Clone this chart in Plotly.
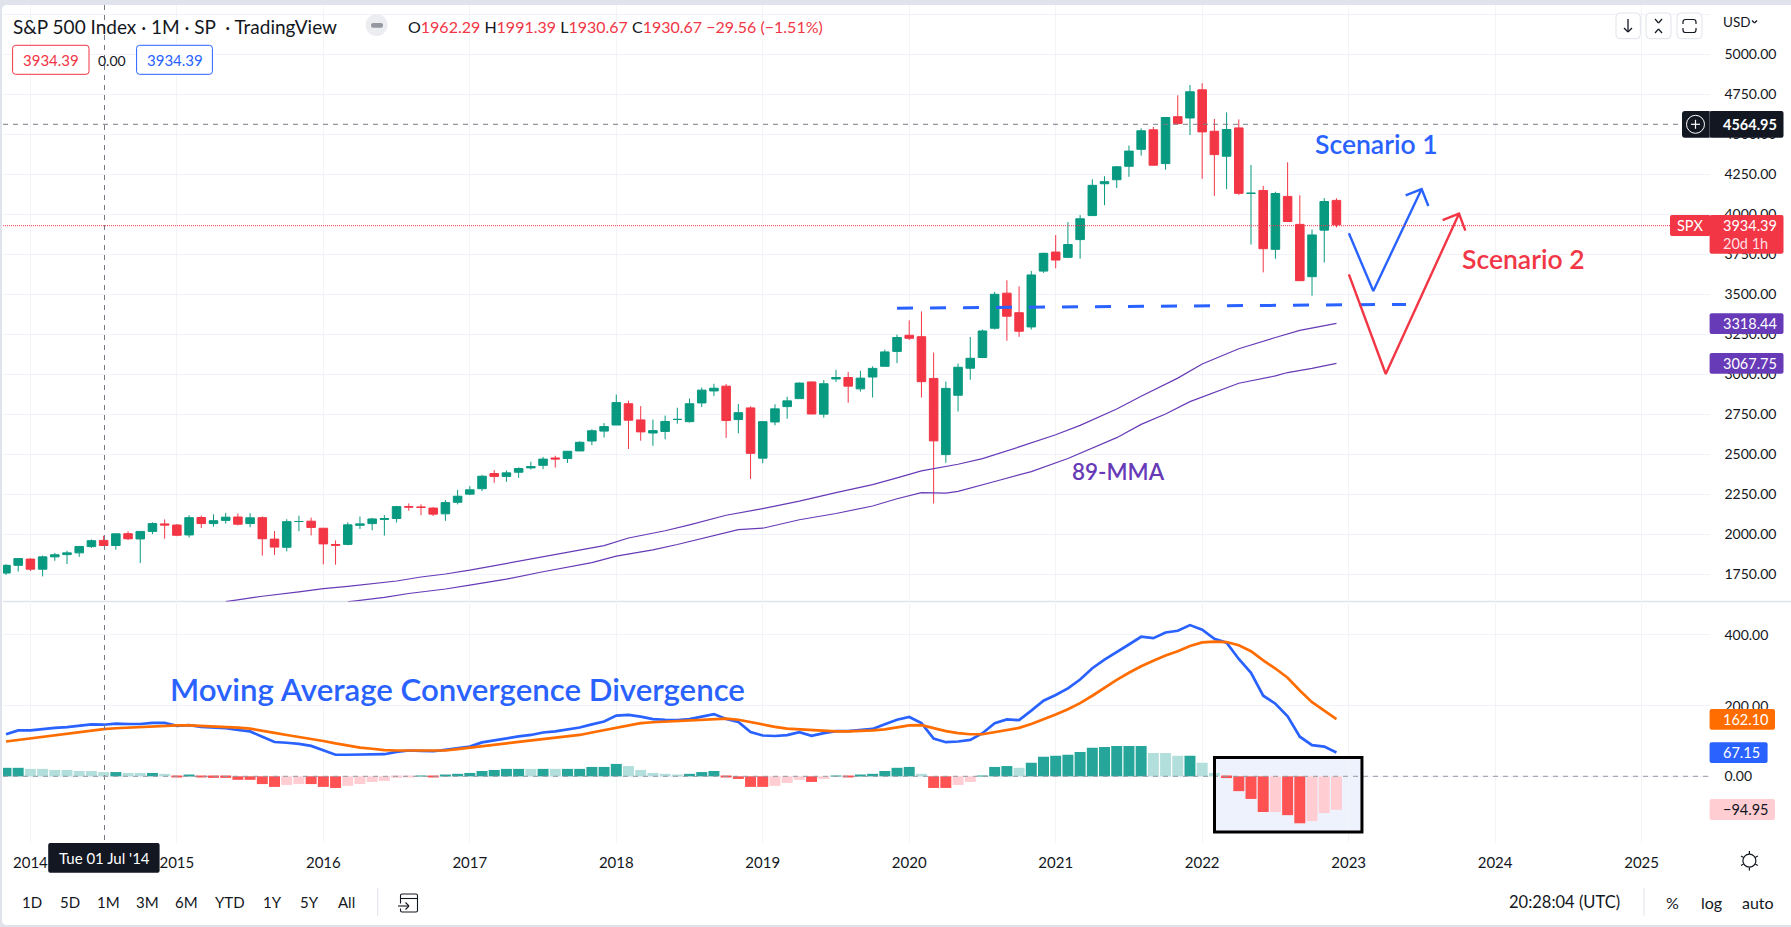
import plotly.graph_objects as go

W, H = 1791, 927
AX_R, AX_L = 1709.6, 3.0
PANE_TOP, PANE_MID, PANE_BOT = 5.0, 601.5, 843.0

# ---------- data ----------
first_month = (2013, 11)
opens = [1758,1806,1845,1782,1859,1873,1884,1923,1962,1930,2004,1971,2018,2065,2058,1996,2105,2067,2087,2108,2067,2104,1970,1919,2080,2082,
 2038,1936,1937,2056,2067,2093,2099,2173,2171,2164,2128,2200,2251,2285,2380,2362,2388,2415,2431,2477,2474,2521,2583,2645,2683,2816,2715,2633,2643,2718,2704,2821,2896,2926,2717,2790,
 2476,2702,2798,2848,2952,2751,2971,2980,2909,2983,3050,3143,3244,3235,2974,2498,2869,3038,3105,3288,3507,3385,3296,3645,3764,3731,3842,3992,4191,4216,4300,4406,4528,4317,4610,4602,
 4778,4519,4363,4540,4130,4149,3781,4112,3937,3610,3901,4087]
highs = [1813,1849,1850,1867,1883,1897,1925,1968,1991,2005,2019,2019,2075,2093,2064,2119,2117,2125,2134,2130,2132,2112,2020,2094,2116,2104,
 2038,1962,2075,2111,2103,2120,2178,2193,2187,2169,2214,2278,2301,2371,2401,2399,2418,2454,2484,2491,2519,2582,2657,2695,2873,2835,2801,2717,2742,2791,2848,2917,2941,2940,2815,2800,
 2708,2813,2860,2949,2955,2964,3028,3014,3022,3050,3154,3248,3337,3393,3136,2955,3068,3233,3280,3515,3588,3550,3646,3760,3870,3951,3995,4219,4238,4302,4430,4537,4546,4609,4744,4808,
 4819,4596,4637,4593,4308,4178,4141,4325,4119,3905,4101,4100]
lows = [1746,1767,1770,1737,1834,1814,1859,1915,1930,1904,1964,1820,2001,1972,1988,1980,2039,2048,2067,2056,2044,1867,1871,1893,2019,1993,
 1812,1810,1931,2033,2025,1992,2074,2147,2119,2114,2084,2187,2245,2271,2322,2328,2353,2405,2407,2417,2446,2520,2557,2605,2683,2533,2585,2553,2594,2691,2699,2796,2864,2603,2631,2346,
 2444,2681,2722,2848,2750,2729,2952,2822,2892,2855,3050,3070,3214,2855,2192,2447,2767,2966,3101,3280,3210,3234,3280,3634,3663,3726,3723,3990,4057,4164,4234,4367,4305,4279,4561,4496,
 4222,4115,4157,4121,3811,3637,3722,3955,3585,3491,3699,3918]
closes = [1806,1848,1782,1859,1872,1884,1924,1960,1930,2003,1972,2018,2067,2058,1994,2104,2067,2085,2107,2063,2103,1972,1920,2079,2080,2043,
 1940,1932,2059,2065,2096,2098,2173,2170,2168,2126,2198,2238,2278,2363,2362,2384,2411,2423,2470,2471,2519,2575,2647,2673,2823,2713,2640,2648,2705,2718,2816,2901,2913,2711,2760,2506,
 2704,2784,2834,2945,2752,2941,2980,2926,2976,3037,3140,3230,3225,2954,2584,2912,3044,3100,3271,3500,3363,3269,3621,3756,3714,3811,3972,4181,4204,4297,4395,4522,4307,4605,4567,4766,
 4515,4373,4530,4131,4132,3785,4130,3955,3585,3871,4080,3934.39]

ma_upper_idx = [18,21,24,26,28,30,32,34,36,38,40,44,46,49,51,54,56,59,62,65,68,71,73,75,78,80,83,86,88,91,93,96,98,101,104,106,109]
ma_upper = [1579,1613,1640,1661,1675,1691,1708,1733,1752,1776,1803,1858,1884,1929,1977,2022,2059,2119,2161,2207,2260,2310,2353,2396,2438,2473,2546,2622,2681,2783,2863,2976,3064,3160,3230,3275,3318.44]
ma_lower_idx = [28,31,33,36,38,41,44,46,48,50,53,55,58,60,62,65,68,71,73,75,77,78,81,84,87,91,93,95,97,99,101,104,105,107,109]
ma_lower = [1578,1606,1630,1658,1682,1720,1766,1795,1823,1864,1903,1936,1994,2029,2038,2091,2130,2177,2222,2260,2257,2268,2330,2392,2474,2604,2687,2752,2829,2885,2944,2990,3011,3037,3067.75]

macd = [119,130,130,134,137,139,143,147,146,149,148,148,151,151,143,145,140,138,136,131,127,112,97,95,92,86,74,61,61,61,62,62.5,69,73,72,71,75,
 79,84,96,102,107,113,117,124,127,132,138,147,155,172,174,169,162,160,159,162,170,176,162,154,125,115.5,114,116.5,125,114.6,122,128,128,132,134,147,160,
 168,150.6,107,96.6,98.5,103,122,150,161,159,186,214,230,249,274,306,330.5,353,373,395,391,407,412,428,415,389,378,332,293,228,205.5,170,112,88,84,67.15]
signal = [98.5,103,108,113,117,121,125,130,133.5,136,138,140,142,144,144,144,143,142,141,138,135,130,123,117,112,107,100,93,86,81,78,74,73,73,73,72.5,73,
 77,80.5,84,88,93,97.5,101,105,109,113,117,124,131,138,145,150.5,153,155,156,158,161,163,163,160,153,147,140,135,133,129,127,127,127,128,130,133,139,
 144,145,136,128,122,119,119,125,132.6,137,148,161,175,190,207,228,251,273,293,311.5,327,342,354,369,379,381,380,371,354,328,305,279,243,210,186,162.10]
hist = [24,24,21,21,18,18,15,15,12,12,9.5,9.5,9.5,7,-2,4,-2,-4.5,-4.5,-10,-10,-22,-30,-24.5,-22,-22,-30,-33,-27,-22,-16,-13,-4.5,-2,2,-2,4,
 7,9.5,15,18,21,21,21,21,21,21,21,26.5,26.5,35,29,18,9.5,7,4,7,12,15,-2,-7.5,-30,-30,-27,-19,-10,-16,-7.5,2,-2,4,7,15,24,
 26.5,7,-33,-33,-24.6,-16,2,26.5,29,24,38,55,58,61,69,80.5,83,86,86,86,66,66,58,58,38,9.5,-5,-42,-64,-101,-101,-110,-133,-127,-104,-94.95]
hist_shade = list("DDLLLLLLLDLLDL" "RDRRRRRRRPPRRRPPPPPP" "DRD" "DDDDDDLDLDDDDDLLLLLDDDRRRRPPPRPDRDDDD" "DLRRPPDDDLDDDDDDDDDDLLLDLLRRRRPRRPPP")
shade_colors = {"D": "#26a69a", "L": "#b2dfdb", "R": "#ff5252", "P": "#ffcdd2"}

level_x = [73, 114.7]
level_y = [3413, 3437]
sc1_x = [110.02, 112.02, 115.98]
sc1_y = [3881, 3521, 4158]
sc1_head_x = [114.67, 115.98, 116.53]
sc1_head_y = [4119, 4158, 4052]
sc2_x = [110.02, 113.04, 119.04]
sc2_y = [3625, 3002, 4004]
sc2_head_x = [117.7, 119.04, 119.56]
sc2_head_y = [3964, 4004, 3898]

price_ticks = [1750,2000,2250,2500,2750,3000,3250,3500,3750,4000,4250,4500,4750,5000,5250]
macd_ticks = [0, 200, 400]
year_labels = ["2014","2015","2016","2017","2018","2019","2020","2021","2022","2023","2024","2025"]
range_buttons = ["1D","5D","1M","3M","6M","YTD","1Y","5Y","All"]

# ---------- scales ----------
GREEN, RED, BLUE, ORANGE, PURPLE, INK = "#089981", "#f23645", "#2962ff", "#ff6d00", "#673ab7", "#131722"
GRID = "#f0f3fa"
FONT = "Lato"
x0_i = (AX_L - 30.4) / 12.206 + 2
x1_i = (AX_R - 30.4) / 12.206 + 2
py0, py1 = 5000 - (PANE_MID - 54.3) / 0.16, 5000 - (PANE_TOP - 54.3) / 0.16
my0, my1 = (776.3 - PANE_BOT) / 0.3533, (776.3 - PANE_MID) / 0.3533
idx = list(range(len(closes)))
year_idx = [(int(y) - first_month[0]) * 12 + 1 - first_month[1] for y in year_labels]

def px(x): return x / W
def py(y): return 1 - y / H

shapes, notes = [], []

def rrect(x0, y0, x1, y1, r, fill=None, line=None, lw=1, layer="above"):
    d = (f"M{px(x0+r)},{py(y0)} L{px(x1-r)},{py(y0)} Q{px(x1)},{py(y0)} {px(x1)},{py(y0+r)} "
         f"L{px(x1)},{py(y1-r)} Q{px(x1)},{py(y1)} {px(x1-r)},{py(y1)} L{px(x0+r)},{py(y1)} "
         f"Q{px(x0)},{py(y1)} {px(x0)},{py(y1-r)} L{px(x0)},{py(y0+r)} Q{px(x0)},{py(y0)} {px(x0+r)},{py(y0)} Z")
    shapes.append(dict(type="path", xref="paper", yref="paper", path=d, fillcolor=fill or "rgba(0,0,0,0)",
                       line=dict(color=line or "rgba(0,0,0,0)", width=lw if line else 0), layer=layer))

def seg(x0, y0, x1, y1, color, w=1, dash="solid", layer="above"):
    shapes.append(dict(type="line", xref="paper", yref="paper", x0=px(x0), y0=py(y0), x1=px(x1), y1=py(y1),
                       line=dict(color=color, width=w, dash=dash), layer=layer))

def circle(cx, cy, r, fill=None, line=None, lw=1):
    shapes.append(dict(type="circle", xref="paper", yref="paper", x0=px(cx-r), y0=py(cy-r), x1=px(cx+r), y1=py(cy+r),
                       fillcolor=fill or "rgba(0,0,0,0)", line=dict(color=line or "rgba(0,0,0,0)", width=lw if line else 0), layer="above"))

def text(x, y, s, size=14, color=INK, anchor="left", weight=None):
    f = dict(family=FONT, size=size, color=color)
    if weight:
        f["weight"] = weight
    notes.append(dict(xref="paper", yref="paper", x=px(x), y=py(y), text=s, showarrow=False, xanchor=anchor,
                      yanchor="middle", font=f, borderpad=0, borderwidth=0))

# ---------- frame ----------
rrect(2, 5, W + 6, 925, 5, fill="white", layer="below")
seg(AX_L, PANE_MID, W, PANE_MID, "#e0e3eb", 1.5, layer="below")

# crosshair and price lines
seg(104.5, PANE_TOP, 104.5, PANE_BOT, "#787b86", 1, "5px,5px")
seg(AX_L, 124.3, AX_R, 124.3, "#787b86", 1, "5px,5px")
seg(AX_L, 225.7, 1670, 225.7, RED, 1, "1px,1px")
seg(AX_L, 776.3, AX_R, 776.3, "#9598a1", 1, "5px,5px")

# highlighted zone on the histogram: tint under the bars, black frame over them
zone = dict(type="rect", xref="x2", yref="y2", x0=99.01, x1=111.09, y0=-157.7, y1=53)
shapes.append(dict(zone, fillcolor="#eef2fd", line=dict(width=0), layer="below"))
shapes.append(dict(zone, fillcolor="rgba(0,0,0,0)", line=dict(color="black", width=3), layer="above"))

# ---------- legend row ----------
R = f'color:{RED}'
text(13, 26.7, "S&amp;P 500 Index · 1M · SP  · TradingView", 19)
circle(376.6, 25, 11, fill="#ebedf1")
rrect(371, 23, 383, 27.7, 2, fill="#9598a1")
text(408, 26.7, f'O<span style="{R}">1962.29</span> H<span style="{R}">1991.39</span> L<span style="{R}">1930.67</span> '
                f'C<span style="{R}">1930.67</span> <span style="{R}">−29.56 (−1.51%)</span>', 16)
rrect(12.6, 45.3, 89, 74.3, 3, fill="white", line=RED)
text(50.8, 60, "3934.39", 15, RED, "center")
text(112, 60, "0.00", 14, INK, "center")
rrect(136.6, 45.3, 212.4, 74.3, 3, fill="white", line=BLUE)
text(174.5, 60, "3934.39", 15, BLUE, "center")

# ---------- right-hand buttons ----------
for a, b in [(1616, 1640.3), (1646, 1671), (1677, 1702)]:
    rrect(a, 13, b, 38.7, 4, fill="white", line="#e0e3eb")
# down arrow
seg(1628, 19, 1628, 32, INK, 1.3); seg(1624, 28, 1628, 32, INK, 1.3); seg(1632, 28, 1628, 32, INK, 1.3)
# squeeze
seg(1655, 19, 1658.5, 23, INK, 1.2); seg(1662, 19, 1658.5, 23, INK, 1.2)
seg(1655, 33, 1658.5, 29, INK, 1.2); seg(1662, 33, 1658.5, 29, INK, 1.2)
# frame
rrect(1683, 19.5, 1696, 32.5, 2.5, line=INK, lw=1.2)
seg(1680, 26, 1699, 26, "white", 4)
text(1723, 21.7, "USD", 13.5)
seg(1752, 20.5, 1754.5, 23, INK, 1.2); seg(1757, 20.5, 1754.5, 23, INK, 1.2)

# ---------- axis badges ----------
def badge(x0, y0, x1, y1, fill, label, color="white", r=2):
    rrect(x0, y0, x1, y1, r, fill=fill)
    text(1723, (y0 + y1) / 2, label, 14.5, color)

rrect(1682, 111, AX_R + 2, 137.7, 3, fill=INK)
seg(AX_R, 111, AX_R, 137.7, "#787b86", 1)
circle(1695.5, 124.3, 9, line="white")
seg(1691, 124.3, 1700, 124.3, "white", 1.2); seg(1695.5, 119.8, 1695.5, 128.8, "white", 1.2)
badge(AX_R, 111, 1783.5, 137.7, INK, "<b>4564.95</b>")
rrect(1670, 215, AX_R + 1, 236, 2, fill=RED)
text(1689.5, 225.5, "SPX", 14.5, "white", "center")
rrect(AX_R, 215, 1783.5, 253.7, 2, fill=RED)
text(1723, 225.5, "3934.39", 14.5, "white")
text(1723, 243.5, "20d 1h", 14.5, "#ffdfe2")
badge(AX_R, 313.3, 1783.5, 334, PURPLE, "3318.44")
badge(AX_R, 353, 1783.5, 373.7, PURPLE, "3067.75")
badge(AX_R, 709, 1775, 729.7, ORANGE, "162.10")
badge(AX_R, 742.3, 1767.6, 763, BLUE, "67.15")
badge(AX_R, 799, 1775, 820, "#ffcdd2", "−94.95", INK)

# ---------- drawn labels ----------
text(1376.7, 144, "Scenario 1", 26.5, BLUE, "center", 600)
text(1523, 259, "Scenario 2", 26.5, RED, "center", 600)
text(1118, 471.7, "89-MMA", 22.5, PURPLE, "center", 600)
text(457.5, 689.3, "Moving Average Convergence Divergence", 31.2, BLUE, "center", 600)

# ---------- tooltip on time axis ----------
rrect(48.2, 843, 159.6, 872.7, 2, fill=INK)
text(104, 858, "Tue 01 Jul '14", 15, "white", "center")

# ---------- bottom toolbar ----------
for lab, x in zip(range_buttons, [31.6, 69.5, 108, 147, 186, 229.6, 272, 309, 346]):
    text(x, 902, lab, 15, INK, "center")
seg(377.7, 888, 377.7, 915.7, "#e0e3eb")
rrect(400.5, 894, 417.5, 912, 1.5, line=INK, lw=1.1)
seg(400.5, 898.5, 417.5, 898.5, INK, 1.1); seg(398, 906, 410, 906, "white", 5)
seg(398, 906, 409, 906, INK, 1.1); seg(405.5, 902.5, 409, 906, INK, 1.1); seg(405.5, 909.5, 409, 906, INK, 1.1)
text(1564, 902, "20:28:04 (UTC)", 16.5, INK, "center")
seg(1644, 888, 1644, 915.7, "#e0e3eb")
text(1672.7, 902, "%", 16, INK, "center")
text(1711, 902, "log", 16, INK, "center")
text(1758, 902, "auto", 16, INK, "center")
# settings gear
circle(1749.4, 860.7, 6.5, line=INK, lw=1.2)
for a, b, c, d in [(1749.4, 851, 1749.4, 854), (1749.4, 867.5, 1749.4, 870.5), (1741, 856, 1743.6, 857.5),
                   (1755.2, 864, 1757.8, 865.5), (1741, 865.5, 1743.6, 864), (1755.2, 857.5, 1757.8, 856)]:
    seg(a, b, c, d, INK, 1.2)

# ---------- figure ----------
fig = go.Figure()
fig.add_trace(go.Scatter(x=ma_upper_idx, y=ma_upper, mode="lines", line=dict(color=PURPLE, width=1.2), xaxis="x", yaxis="y"))
fig.add_trace(go.Scatter(x=ma_lower_idx, y=ma_lower, mode="lines", line=dict(color=PURPLE, width=1.2), xaxis="x", yaxis="y"))
fig.add_trace(go.Scatter(x=level_x, y=level_y, mode="lines", line=dict(color=BLUE, width=3, dash="16px,17px"), xaxis="x", yaxis="y"))
fig.add_trace(go.Candlestick(x=idx, open=opens, high=highs, low=lows, close=closes, xaxis="x", yaxis="y", whiskerwidth=0,
    increasing=dict(line=dict(color=GREEN, width=1), fillcolor=GREEN),
    decreasing=dict(line=dict(color=RED, width=1), fillcolor=RED)))
for xs, ys, col in [(sc1_x, sc1_y, BLUE), (sc1_head_x, sc1_head_y, BLUE), (sc2_x, sc2_y, RED), (sc2_head_x, sc2_head_y, RED)]:
    fig.add_trace(go.Scatter(x=xs, y=ys, mode="lines", line=dict(color=col, width=2.4), xaxis="x", yaxis="y"))
fig.add_trace(go.Bar(x=idx, y=hist, width=0.9, marker=dict(color=[shade_colors[s] for s in hist_shade], line=dict(width=0)), xaxis="x2", yaxis="y2"))
fig.add_trace(go.Scatter(x=idx, y=macd, mode="lines", line=dict(color=BLUE, width=2.7), xaxis="x2", yaxis="y2"))
fig.add_trace(go.Scatter(x=idx, y=signal, mode="lines", line=dict(color=ORANGE, width=2.7), xaxis="x2", yaxis="y2"))

xbase = dict(range=[x0_i, x1_i], domain=[AX_L / W, AX_R / W], tickmode="array", tickvals=year_idx, showgrid=True,
             gridcolor="#f3f4f7", gridwidth=1, zeroline=False, showline=False, rangeslider=dict(visible=False), fixedrange=True)
ybase = dict(side="right", showgrid=True, gridcolor=GRID, gridwidth=1, zeroline=False, showline=False, tickmode="array",
             ticks="outside", ticklen=11, tickcolor="rgba(0,0,0,0)", tickfont=dict(family=FONT, size=14, color=INK), fixedrange=True)
fig.update_layout(
    width=W, height=H, margin=dict(l=0, r=0, t=0, b=0), showlegend=False,
    paper_bgcolor="#e0e3eb", plot_bgcolor="rgba(0,0,0,0)", boxgap=0.3, boxgroupgap=0, barmode="overlay",
    xaxis=dict(xbase, anchor="y", showticklabels=False),
    xaxis2=dict(xbase, anchor="y2", ticktext=year_labels, ticks="outside", ticklen=6, tickcolor="rgba(0,0,0,0)",
                tickfont=dict(family=FONT, size=15, color=INK)),
    yaxis=dict(ybase, domain=[1 - PANE_MID / H, 1 - PANE_TOP / H], range=[py0, py1], anchor="x", tickvals=price_ticks,
               ticktext=[f"{v:.2f}" if v < 5250 else "" for v in price_ticks]),
    yaxis2=dict(ybase, domain=[1 - PANE_BOT / H, 1 - PANE_MID / H], range=[my0, my1], anchor="x2", tickvals=macd_ticks,
                ticktext=[f"{v:.2f}" for v in macd_ticks]),
    shapes=shapes, annotations=notes,
)
fig.write_html("out.html", config=dict(displayModeBar=False),
               post_script="document.body.style.margin='0';document.body.style.overflow='hidden';")
